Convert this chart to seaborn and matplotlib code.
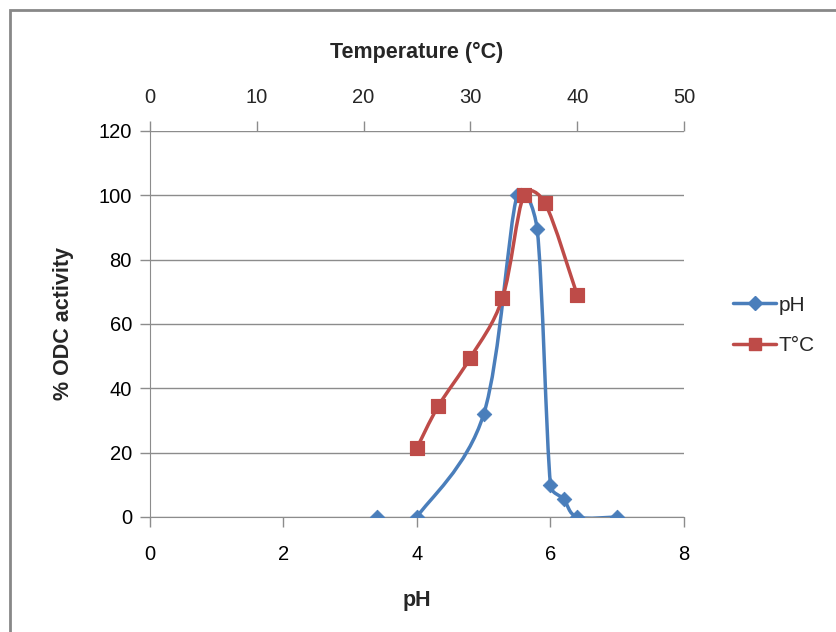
import numpy as np
import matplotlib.pyplot as plt
import seaborn as sns
from matplotlib.path import Path
from matplotlib.patches import PathPatch, Rectangle
from matplotlib.lines import Line2D

# Data
ph = [3.4, 4.0, 5.0, 5.5, 5.8, 6.0, 6.2, 6.4, 7.0]
ph_activity = [0, 0, 32, 100, 89.5, 10, 5.5, 0, 0]
temp = [25, 27, 30, 33, 35, 37, 40]
temp_activity = [21.5, 34.5, 49.5, 68, 100, 97.5, 69]

blue = '#4A7EBB'
red = '#BE4B48'

sns.set_style('white')
plt.rcParams['font.family'] = ['Liberation Sans', 'DejaVu Sans']


def smooth_path(a, x, y, clamp=0.5):
    # smoothed line like the spreadsheet one: Catmull-Rom Bezier pieces in
    # screen space, handles clamped to a share of the segment length
    p = a.transData.transform(np.column_stack([x, y]).astype(float))
    n = len(p)
    tang = [(p[min(i + 1, n - 1)] - p[max(i - 1, 0)]) / 6 for i in range(n)]
    verts = [p[0]]
    codes = [Path.MOVETO]
    for i in range(n - 1):
        L = np.linalg.norm(p[i + 1] - p[i])
        t1, t2 = tang[i], tang[i + 1]
        n1, n2 = np.linalg.norm(t1), np.linalg.norm(t2)
        if n1 > clamp * L:
            t1 = t1 * clamp * L / n1
        if n2 > clamp * L:
            t2 = t2 * clamp * L / n2
        verts += [p[i] + t1, p[i + 1] - t2, p[i + 1]]
        codes += [Path.CURVE4] * 3
    verts = a.transData.inverted().transform(np.array(verts))
    return Path(verts, codes)


fig = plt.figure(figsize=(8.37, 6.32), dpi=100)
ax = fig.add_axes([0.1792, 0.182, 0.638, 0.6108])
ax2 = ax.twiny()

ax.set_xlim(0, 8)
ax.set_ylim(0, 120)
ax2.set_xlim(0, 50)
ax2.set_ylim(0, 120)

# pH series (the first point is not joined to the line)
ax.add_patch(PathPatch(smooth_path(ax, ph[1:], ph_activity[1:]), facecolor='none',
                       edgecolor=blue, lw=2.5, zorder=3))
sns.scatterplot(x=ph, y=ph_activity, ax=ax, marker='D', s=55, color=blue,
                edgecolor=blue, zorder=4, legend=False)

# temperature series on the top axis
ax2.add_patch(PathPatch(smooth_path(ax2, temp, temp_activity), facecolor='none',
                        edgecolor=red, lw=2.5, zorder=3))
sns.scatterplot(x=temp, y=temp_activity, ax=ax2, marker='s', s=110, color=red,
                edgecolor=red, zorder=4, legend=False)

ax.set_xlim(0, 8)
ax.set_ylim(0, 120)
ax2.set_xlim(0, 50)
ax2.set_ylim(0, 120)
ax.set_xticks(range(0, 9, 2))
ax.set_yticks(range(0, 121, 20))
ax2.set_xticks(range(0, 51, 10))

ax.yaxis.grid(True, color='#8C8C8C', lw=1)
ax.set_axisbelow(True)

for a in (ax, ax2):
    for s in a.spines.values():
        s.set_visible(False)
ax.spines['left'].set_visible(True)
ax.spines['bottom'].set_visible(True)
ax.spines['left'].set_color('#8C8C8C')
ax.spines['bottom'].set_color('#8C8C8C')

ax.tick_params(axis='both', which='major', length=7, width=1, color='#8C8C8C',
               direction='out', labelsize=14.5, pad=6, labelcolor='black',
               bottom=True, left=True)
ax.tick_params(axis='x', pad=13)
ax2.tick_params(axis='x', length=7, width=1, color='#8C8C8C', direction='out',
                labelsize=14.5, pad=10, top=True)

ax.set_xlabel('pH', fontsize=15.5, fontweight='bold', labelpad=19)
ax.set_ylabel('% ODC activity', fontsize=15.5, fontweight='bold', labelpad=18)
ax2.set_xlabel('Temperature (°C)', fontsize=15.5, fontweight='bold', labelpad=22)

handles = [
    Line2D([], [], color=blue, lw=2.5, marker='D', markersize=7),
    Line2D([], [], color=red, lw=2.5, marker='s', markersize=9),
]
fig.legend(handles, ['pH', 'T°C'], loc='center left', bbox_to_anchor=(0.853, 0.485),
           frameon=False, fontsize=15, handlelength=2.1, handletextpad=0.1,
           labelspacing=1.05)

# outer chart border
fig.patches.append(Rectangle((0.012, -0.1), 1.2, 1.084, transform=fig.transFigure,
                             fill=False, edgecolor='#888888', lw=2))

fig.savefig('out.png', dpi=100)
